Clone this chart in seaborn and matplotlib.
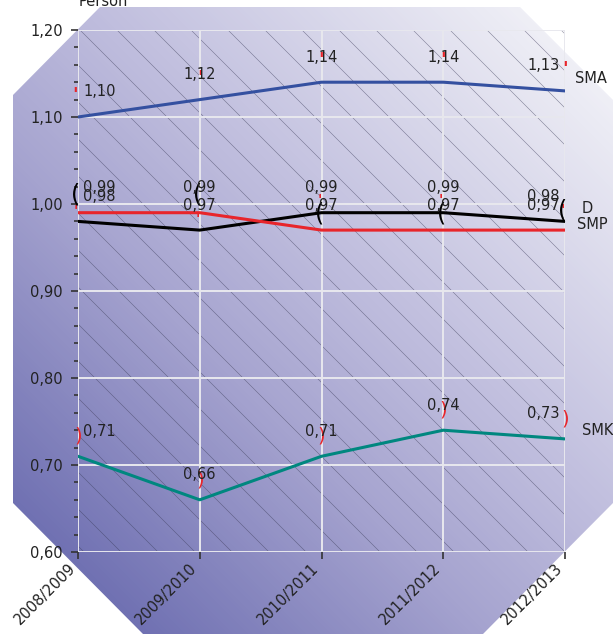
import numpy as np
import pandas as pd
import matplotlib
matplotlib.use("Agg")
import matplotlib.pyplot as plt
import matplotlib.transforms as mtransforms
import seaborn as sns
from matplotlib.patches import Polygon, Rectangle
from matplotlib.colors import LinearSegmentedColormap
from matplotlib.ticker import MultipleLocator, FuncFormatter

# ---- data ----
years = ["2008/2009", "2009/2010", "2010/2011", "2011/2012", "2012/2013"]
sma = [1.10, 1.12, 1.14, 1.14, 1.13]
sd = [0.98, 0.97, 0.99, 0.99, 0.98]
smp = [0.99, 0.99, 0.97, 0.97, 0.97]
smk = [0.71, 0.66, 0.71, 0.74, 0.73]
series_names = ["SMA", "D", "SMP", "SMK"]
series_values = [sma, sd, smp, smk]
series_colors = ["#3450a0", "#000000", "#e8252b", "#00877f"]
y_label = "Person"

# ---- styling (not data) ----
end_label_offsets = {"SMA": (10, 12), "D": (17, 13), "SMP": (12, 6), "SMK": (17, 8)}
val_dx = [5, 0, 0, 0, -5]
val_ha = ["left", "center", "center", "center", "right"]

sns.set_theme(style="white")
plt.rcParams["font.family"] = ["DejaVu Sans"]

W, H = 613, 634
fig = plt.figure(figsize=(W / 100, H / 100), dpi=100)

# background: octagon with diagonal gradient
bg = fig.add_axes([0, 0, 1, 1])
bg.set_xlim(0, W)
bg.set_ylim(H, 0)
bg.axis("off")
xx, yy = np.meshgrid(np.arange(W) + 0.5, np.arange(H) + 0.5)
t = (xx - yy + H) / (W + H)
cmap = LinearSegmentedColormap.from_list(
    "g",
    [(0.0, "#5f5fa6"), (0.12, "#7172b3"), (0.39, "#a5a3cf"),
     (0.58, "#c0bede"), (0.92, "#efeff6"), (1.0, "#f8f8fb")])
im = bg.imshow(t, cmap=cmap, extent=(0, W, H, 0), vmin=0, vmax=1,
               interpolation="bilinear", aspect="auto")
octo = Polygon([(100, 7), (520, 7), (613, 100), (613, 503), (483, 634),
                (143, 634), (13, 503), (13, 95)], closed=True,
               facecolor="none", edgecolor="none", transform=bg.transData)
bg.add_patch(octo)
im.set_clip_path(octo)

# plot area
L, R, T, B = 78, 565, 30, 552
ax = fig.add_axes([L / W, (H - B) / H, (R - L) / W, (B - T) / H])
ax.patch.set_alpha(0)

# hatch lines within plot area
clip_rect = Rectangle((L, T), R - L, B - T, transform=bg.transData,
                      facecolor="none", edgecolor="none")
bg.add_patch(clip_rect)
for c in np.arange(50 - 37 * 20, 600, 37):
    ln, = bg.plot([L - 600, R + 600], [L - 600 - c, R + 600 - c],
                  color="#3c3c5a", lw=0.4, alpha=0.6, zorder=1)
    ln.set_clip_path(clip_rect)

df = pd.DataFrame({
    "year": years * len(series_names),
    "value": sum(series_values, []),
    "series": [s for s in series_names for _ in years],
})
ax.set_axisbelow(True)
ax.grid(True, which="major", color="#e8e8ee", linewidth=1.4)
sns.lineplot(data=df, x="year", y="value", hue="series",
             palette=dict(zip(series_names, series_colors)),
             hue_order=series_names, linewidth=2.2, sort=False,
             legend=False, ax=ax, zorder=3)

ax.set_xlim(0, len(years) - 1)
ax.set_ylim(0.6, 1.2)
ax.yaxis.set_major_locator(MultipleLocator(0.1))
ax.yaxis.set_minor_locator(MultipleLocator(0.02))
ax.yaxis.set_major_formatter(FuncFormatter(lambda v, p: f"{v:.2f}".replace(".", ",")))
for s in ax.spines.values():
    s.set_visible(False)
ax.tick_params(axis="y", which="major", length=5, width=1.2, color="#333333",
               left=True, labelsize=10.5, pad=6, labelcolor="#222222")
ax.tick_params(axis="y", which="minor", length=3, width=1.2, color="#333333", left=True)
ax.tick_params(axis="x", which="major", length=5, width=1.2, color="#333333",
               bottom=True, labelsize=10.5, pad=5, labelcolor="#222222")
ax.set_xticks(range(len(years)))
ax.set_xticklabels(years, rotation=45, ha="right", va="center", rotation_mode="anchor")
shift = mtransforms.ScaledTranslation(-5 / 100, 0, fig.dpi_scale_trans)
for lab in ax.get_xticklabels():
    lab.set_transform(lab.get_transform() + shift)
ax.set_xlabel("")
ax.set_ylabel("")

# value labels
for name, vals, col in zip(series_names, series_values, series_colors):
    for i, v in enumerate(vals):
        ax.annotate(f"{v:.2f}".replace(".", ","), xy=(i, v),
                    xytext=(val_dx[i], 25), textcoords="offset pixels",
                    ha=val_ha[i], va="center", fontsize=10.5, color="#222222",
                    zorder=5, annotation_clip=False)
    dx, dy = end_label_offsets[name]
    ax.annotate(name, xy=(len(vals) - 1, vals[-1]), xytext=(dx, dy),
                textcoords="offset pixels", ha="left", va="center",
                fontsize=10.5, color="#222222", annotation_clip=False)

# little marker glyphs near labels
for i, v in enumerate(sma):
    ax.annotate("'", xy=(i, v), xytext=(-3 if i == 0 else 0, 22),
                textcoords="offset pixels", ha="center", va="center",
                fontsize=13, fontweight="bold", color="#e8252b", annotation_clip=False)
for i, v in enumerate(smk):
    ax.annotate(")", xy=(i, v), xytext=(0, 20), textcoords="offset pixels",
                ha="center", va="center", fontsize=14, color="#e8252b",
                annotation_clip=False)
smp_mark_dy = [2, -6, 30, 30, 20]
for i, v in enumerate(smp):
    ax.annotate("'", xy=(i, v), xytext=(-2, smp_mark_dy[i]), textcoords="offset pixels",
                ha="center", va="center", fontsize=10, fontweight="bold",
                color="#e8252b", annotation_clip=False)
sd_mark_dy = [27, 36, -1, -1, 11]
for i, v in enumerate(sd):
    ax.annotate("(", xy=(i, v), xytext=(-2, sd_mark_dy[i]), textcoords="offset pixels",
                ha="center", va="center", fontsize=17, color="#000000",
                annotation_clip=False)

fig.text(103 / W, 1 - 6 / H, y_label, ha="center", va="baseline",
         fontsize=10.5, color="#222222")

fig.savefig("out.png", dpi=100)
